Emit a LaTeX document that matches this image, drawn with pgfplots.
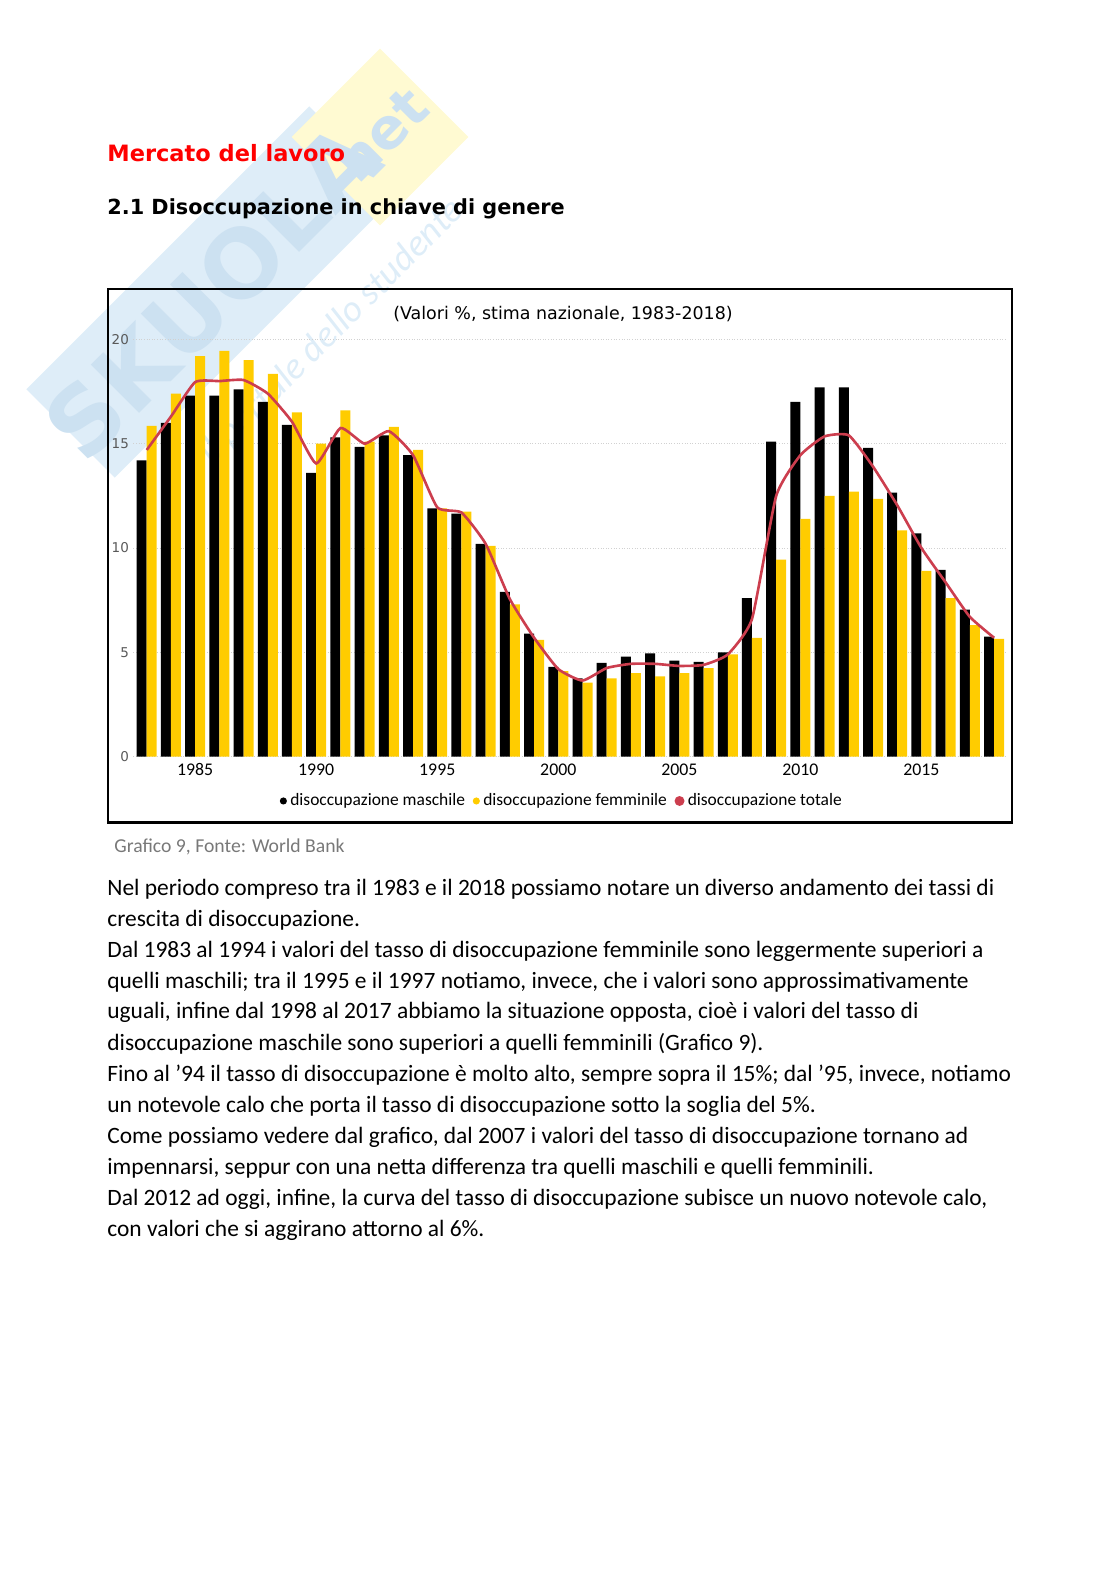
\documentclass[border=0pt]{standalone}
\usepackage{pgfplots}
\pgfplotsset{compat=1.18}
\usepackage{pgfplotstable}
\usepackage{fontspec}
\setmainfont{Carlito}
\newfontfamily\headfont{DejaVu Sans}
\newfontfamily\chartfont{DejaVu Sans}

\definecolor{barYellow}{RGB}{255,204,0}
\definecolor{lineRed}{RGB}{204,62,78}
\definecolor{headRed}{RGB}{255,0,0}
\definecolor{wmBlue}{RGB}{222,237,248}
\definecolor{wmBlueDark}{RGB}{204,225,241}
\definecolor{wmYellow}{RGB}{255,250,210}
\definecolor{capGray}{RGB}{120,120,120}

% year, male, female, total (% unemployment)
\pgfplotstableread{
year male female total
1983 14.2  15.85 14.7
1984 16.0  17.4  16.3
1985 17.3  19.2  17.95
1986 17.3  19.45 18.0
1987 17.6  19.0  18.05
1988 17.0  18.35 17.4
1989 15.9  16.5  16.05
1990 13.6  15.0  14.05
1991 15.3  16.6  15.75
1992 14.85 15.1  15.0
1993 15.4  15.8  15.6
1994 14.45 14.7  14.45
1995 11.9  11.9  11.95
1996 11.65 11.75 11.7
1997 10.2  10.1  10.2
1998 7.9   7.3   7.55
1999 5.9   5.6   5.7
2000 4.3   4.1   4.2
2001 3.75  3.55  3.65
2002 4.5   3.75  4.25
2003 4.8   4.0   4.45
2004 4.95  3.85  4.45
2005 4.6   4.0   4.35
2006 4.55  4.25  4.4
2007 5.0   4.9   4.9
2008 7.6   5.7   6.6
2009 15.1  9.45  12.5
2010 17.0  11.4  14.45
2011 17.7  12.5  15.35
2012 17.7  12.7  15.4
2013 14.8  12.35 13.9
2014 12.65 10.85 12.05
2015 10.7  8.9   10.0
2016 8.95  7.6   8.35
2017 7.05  6.3   6.7
2018 5.75  5.65  5.7
}\unemp

\begin{document}
\begin{tikzpicture}
\path[use as bounding box] (0pt,0pt) rectangle (595.27pt,-842.25pt);
% page in pixel units (1 px = 0.5334 pt), y pointing down
\begin{scope}[x=0.5334pt,y=-0.5334pt]
  % watermark
  \node[rotate=45,fill=wmBlue,minimum width=400*0.5334pt,minimum height=125*0.5334pt,inner sep=0pt] at (212,292) {};
  \node[rotate=45,fill=wmYellow,minimum width=125*0.5334pt,minimum height=125*0.5334pt,inner sep=0pt] at (380,137) {};
  \node[rotate=45,text=wmBlueDark,font=\headfont\bfseries\fontsize{50}{50}\selectfont] at (212,292) {SKUOLA};
  \node[rotate=45,text=wmBlueDark,font=\headfont\bfseries\fontsize{30}{30}\selectfont] at (382,135) {net};
  \node[rotate=45,text=wmBlue,font=\itshape\fontsize{20}{20}\selectfont] at (332,332) {il portale dello studente};
  % headings
  \node[anchor=base west,inner sep=0pt,text=headRed,font=\headfont\bfseries\fontsize{12}{14}\selectfont] at (107,162) {Mercato del lavoro};
  \node[anchor=base west,inner sep=0pt,font=\headfont\bfseries\fontsize{11.1}{14}\selectfont] at (107,215) {2.1 Disoccupazione in chiave di genere};
  % chart frame and title
  \draw[line width=1.1pt] (107.7,289) rectangle (1011.7,822.5);
  \node[font=\chartfont\fontsize{9.3}{11}\selectfont] at (563,314) {(Valori \%, stima nazionale, 1983-2018)};
  % caption
  \node[anchor=base west,inner sep=0pt,text=capGray,font=\fontsize{10.5}{12}\selectfont] at (114,853) {Grafico 9, Fonte: World Bank};
  % body text
  \begin{scope}[every node/.style={anchor=base west,inner sep=0pt,font=\fontsize{12.5}{16}\selectfont}]
    \node at (107,895) {Nel periodo compreso tra il 1983 e il 2018 possiamo notare un diverso andamento dei tassi di};
    \node at (107,926) {crescita di disoccupazione.};
    \node at (107,957) {Dal 1983 al 1994 i valori del tasso di disoccupazione femminile sono leggermente superiori a};
    \node at (107,988) {quelli maschili; tra il 1995 e il 1997 notiamo, invece, che i valori sono approssimativamente};
    \node at (107,1019) {uguali, infine dal 1998 al 2017 abbiamo la situazione opposta, cioè i valori del tasso di};
    \node at (107,1050) {disoccupazione maschile sono superiori a quelli femminili (Grafico 9).};
    \node at (107,1081) {Fino al ’94 il tasso di disoccupazione è molto alto, sempre sopra il 15\%; dal ’95, invece, notiamo};
    \node at (107,1112) {un notevole calo che porta il tasso di disoccupazione sotto la soglia del 5\%.};
    \node at (107,1143) {Come possiamo vedere dal grafico, dal 2007 i valori del tasso di disoccupazione tornano ad};
    \node at (107,1174) {impennarsi, seppur con una netta differenza tra quelli maschili e quelli femminili.};
    \node at (107,1205) {Dal 2012 ad oggi, infine, la curva del tasso di disoccupazione subisce un nuovo notevole calo,};
    \node at (107,1236) {con valori che si aggirano attorno al 6\%.};
  \end{scope}
\end{scope}

\begin{axis}[
  at={(71.16pt,-403.63pt)}, anchor=south west,
  scale only axis,
  width=464.9pt, height=229.3pt,
  xmin=1982.45, xmax=2018.45,
  ymin=0, ymax=20.6,
  xtick={1985,1990,...,2015},
  ytick={0,5,10,15,20},
  axis line style={draw=none},
  major tick length=0pt,
  ymajorgrids,
  grid style={densely dotted,black!18},
  /pgf/number format/assume math mode=true,
  /pgf/number format/1000 sep={},
  xticklabel style={font=\fontsize{9.5}{10}\selectfont,inner sep=1pt,yshift=-2.5pt},
  yticklabel style={font=\chartfont\fontsize{7.2}{8}\selectfont,text=black!65,inner sep=1pt,xshift=-1.2pt},
  legend style={at={(0.491,-0.103)},anchor=center,draw=none,fill=none,
    font=\fontsize{9.3}{10}\selectfont,legend columns=3,
    nodes={inner sep=0.6pt},
    /tikz/every even column/.append style={column sep=3.5pt},
    /tikz/every odd column/.append style={column sep=1.2pt}},
]
\addplot[ybar,bar width=0.413,bar shift=-0.2065,fill=black,draw=none,
  legend image code/.code={\fill[black] (0pt,0pt) circle (1.9pt);}]
  table[x=year,y=male]{\unemp};
\addlegendentry{disoccupazione maschile}
\addplot[ybar,bar width=0.413,bar shift=0.2065,fill=barYellow,draw=none,
  legend image code/.code={\fill[barYellow] (0pt,0pt) circle (1.9pt);}]
  table[x=year,y=female]{\unemp};
\addlegendentry{disoccupazione femminile}
\addplot[smooth,tension=0.3,lineRed,line width=1.4pt,no marks,
  legend image code/.code={\fill[lineRed] (0pt,0pt) circle (1.9pt);}]
  table[x=year,y=total]{\unemp};
\addlegendentry{disoccupazione totale}
\end{axis}
\end{tikzpicture}
\end{document}
